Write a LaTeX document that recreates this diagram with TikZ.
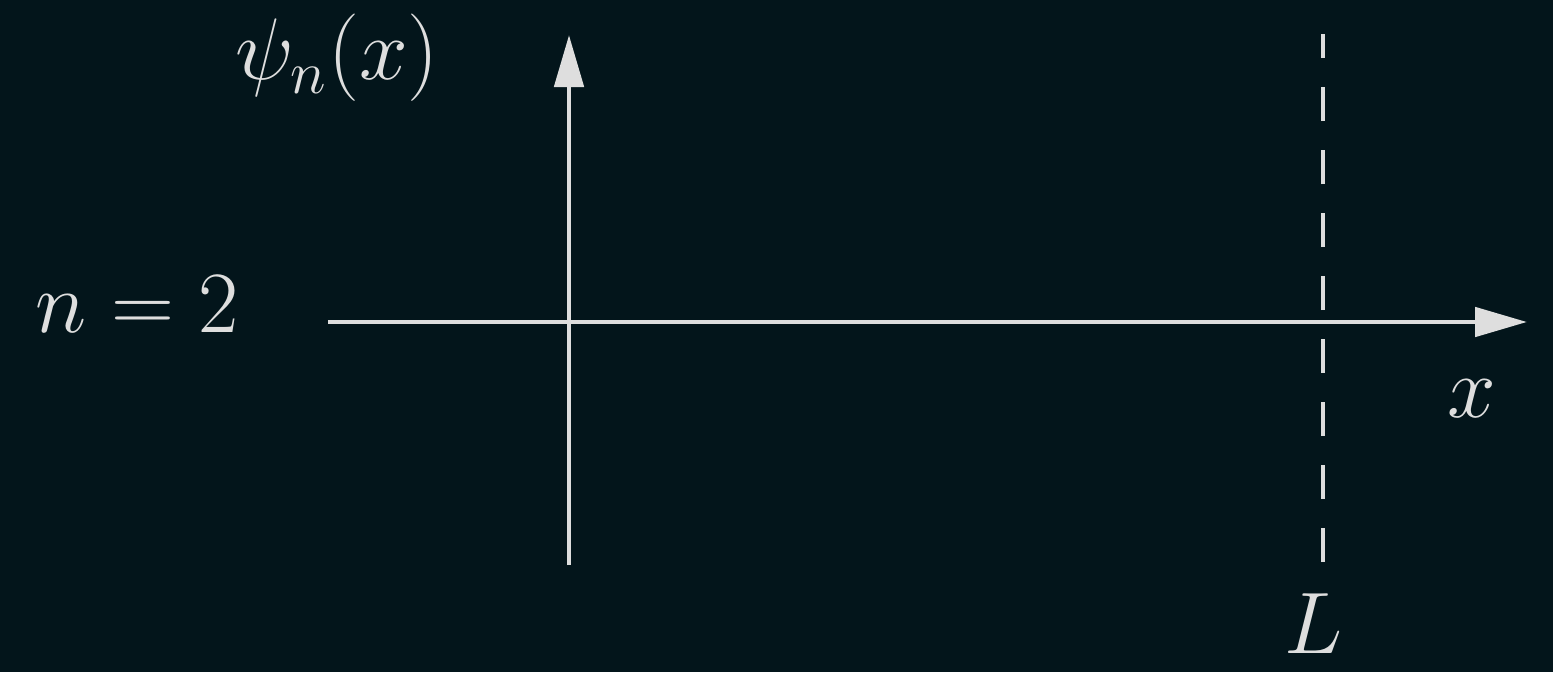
\documentclass[tikz,border=0pt]{standalone}
\usetikzlibrary{arrows.meta}
\definecolor{board}{RGB}{3,21,27}
\definecolor{chalk}{RGB}{222,222,222}
\begin{document}
\begin{tikzpicture}[x=1cm,y=1cm,
    lbl/.style={text=chalk,anchor=base,inner sep=0pt,font=\fontsize{26.3}{31}\selectfont},
    axis/.style={chalk,line width=1.4pt,-{Triangle[length=0.52cm,width=0.29cm]}}]
            % Background
            \fill[board] (0,0) rectangle (15.53,6.72);
            \useasboundingbox (0,0) rectangle (15.53,6.72);

            % Define points
            \coordinate (xs) at (3.28,3.50);
            \coordinate (xe) at (15.27,3.50);
            \coordinate (ys) at (5.69,1.07);
            \coordinate (ye) at (5.69,6.37);
            \coordinate (Lb) at (13.23,1.10);
            \coordinate (Lt) at (13.23,6.38);

            % Draw the axes
            \draw[axis] (xs) -- (xe);
            \draw[axis] (ys) -- (ye);

            % Wall at L
            \draw[chalk,line width=1.4pt,dash pattern=on 0.34cm off 0.29cm] (Lb) -- (Lt);

            % Labels
            \node[lbl] (psi) at (3.37,5.92) {$\psi_n(x)$};
            \node[lbl] (nlab) at (1.37,3.40) {$n=2$};
            \node[lbl] (xlab) at (14.72,2.55) {$x$};
            \node[lbl] (Llab) at (13.14,0.19) {$L$};
        \end{tikzpicture}
\end{document}
